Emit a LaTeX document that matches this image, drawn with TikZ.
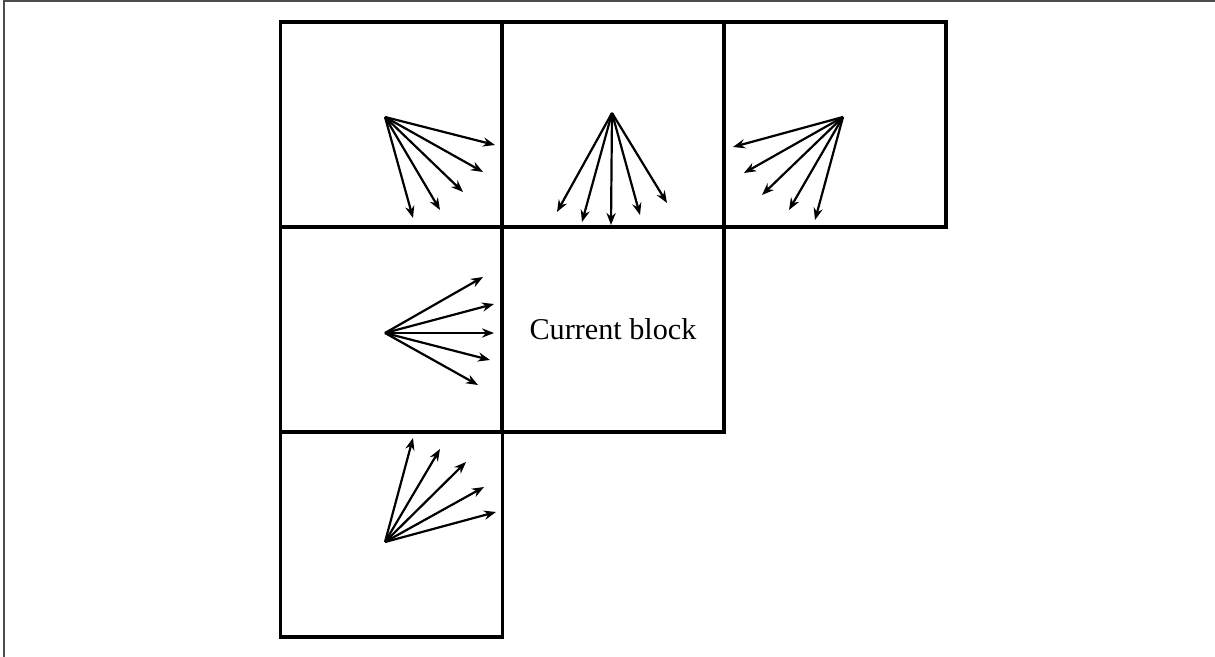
\documentclass[tikz,border=0pt]{standalone}
\usepackage{fontspec}
\setmainfont{Liberation Serif}
\usetikzlibrary{arrows.meta}
\begin{document}
\begin{tikzpicture}[x=0.5pt,y=-0.5pt,
  cell/.style={draw=black,line width=1.6pt,minimum width=111pt,minimum height=102.5pt,inner sep=0pt,outer sep=0pt},
  vec/.style={line width=1.1pt,-{Stealth[length=6pt,width=4.6pt]}},
  frame/.style={draw=black!70,line width=0.6pt}]
\useasboundingbox (0,0) rectangle (1215,657);
\draw[frame] (4,657) -- (4,1) -- (1215,1);
% cells
\node[cell] (tl) at (391.5,124.5) {};
\node[cell] (tm) at (613,124.5) {};
\node[cell] (tr) at (835,124.5) {};
\node[cell] (ml) at (391.5,329.5) {};
\node[cell,font=\fontsize{15.1pt}{18pt}\selectfont] (cur) at (613,329.5) {Current block};
\node[cell] (bl) at (391.5,534.5) {};
% top-left fan
\coordinate (o1) at (385,117);
\foreach \p in {(495,145),(483,172),(463,192),(440,210),(413,218)}
  \draw[vec] (o1) -- \p;
% top-middle fan
\coordinate (o2) at (612,113);
\foreach \p in {(557,212),(582,222),(611,225),(640,215),(667,203)}
  \draw[vec] (o2) -- \p;
% top-right fan
\coordinate (o3) at (843,117);
\foreach \p in {(733,147),(744,173),(762,195),(789,210),(815,220)}
  \draw[vec] (o3) -- \p;
% middle-left fan
\coordinate (o4) at (385,333);
\foreach \p in {(483,277),(494,304),(494,333),(490,360),(478,385)}
  \draw[vec] (o4) -- \p;
% bottom-left fan
\coordinate (o5) at (385,542);
\foreach \p in {(413,438),(440,449),(466,462),(484,487),(496,512)}
  \draw[vec] (o5) -- \p;
\end{tikzpicture}
\end{document}
